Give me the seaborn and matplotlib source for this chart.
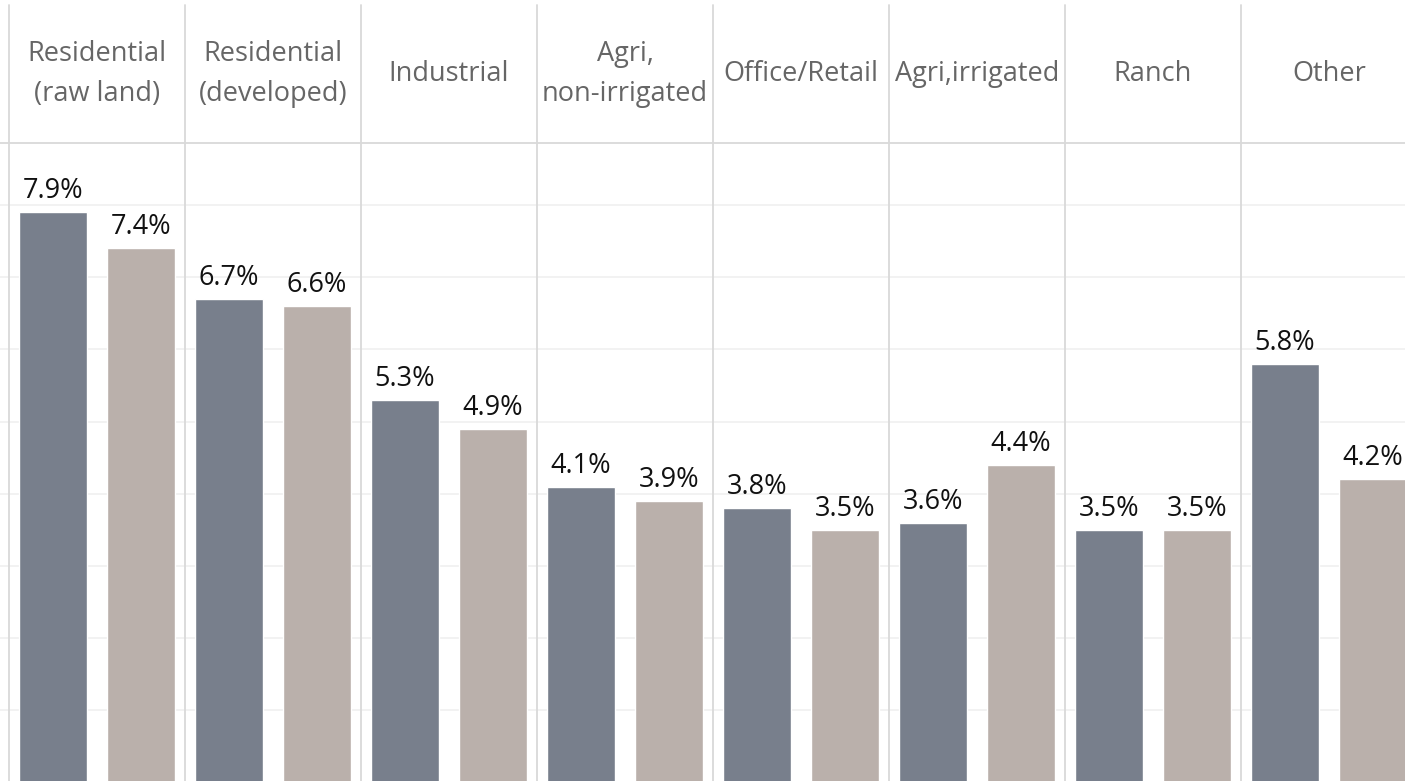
import pandas as pd
import matplotlib.pyplot as plt
import matplotlib.transforms as mtransforms
import seaborn as sns

# Chart data
categories = ['Residential\n(raw land)', 'Residential\n(developed)', 'Industrial',
              'Agri,\nnon-irrigated', 'Office/Retail', 'Agri,irrigated', 'Ranch', 'Other']
series_names = ['Series 1', 'Series 2']
values_1 = [7.9, 6.7, 5.3, 4.1, 3.8, 3.6, 3.5, 5.8]
values_2 = [7.4, 6.6, 4.9, 3.9, 3.5, 4.4, 3.5, 4.2]

colors = ['#787f8c', '#bab0ab']
grid_color = '#f0f0f0'
line_color = '#d9d9d9'

# long form table for seaborn
df = pd.DataFrame({
    'category': categories * 2,
    'series': [series_names[0]] * len(categories) + [series_names[1]] * len(categories),
    'value': values_1 + values_2,
})

sns.set_theme(style='white')
plt.rcParams['font.family'] = ['Open Sans', 'DejaVu Sans']

fig = plt.figure(figsize=(14.05, 7.81), dpi=100)
ax = fig.add_axes([0, 0, 1, 638 / 781])

sns.barplot(data=df, x='category', y='value', hue='series', palette=colors,
            width=1.0, gap=0.23, legend=False, ax=ax, saturation=1)

# Value labels on top of each bar
for container in ax.containers:
    ax.bar_label(container, fmt='{:.1f}%', padding=5, fontsize=19.5, color='#111111')

ax.set_xlim(-0.551, 7.432)
ax.set_ylim(0.02, 8.86)
ax.set_xlabel('')
ax.set_ylabel('')
ax.set_xticks([])
ax.set_yticks(range(1, 9))
ax.tick_params(axis='y', left=False, labelleft=False)
ax.yaxis.grid(True, color=grid_color, linewidth=1.2)
ax.set_axisbelow(True)
for side in ['left', 'right', 'bottom']:
    ax.spines[side].set_visible(False)
ax.spines['top'].set_color(line_color)
ax.spines['top'].set_linewidth(1.3)

# Panel separators and header labels
trans = mtransforms.blended_transform_factory(ax.transData, ax.transAxes)
for i in range(len(categories) + 1):
    ax.plot([i - 0.5, i - 0.5], [0, 1.216], transform=trans, color=line_color,
            linewidth=1.3, clip_on=False, zorder=3)
for i, cat in enumerate(categories):
    ax.text(i, 1.108, cat, transform=trans, ha='center', va='center',
            fontsize=19.5, color='#666666', linespacing=1.6)

fig.savefig('out.png', dpi=100)
